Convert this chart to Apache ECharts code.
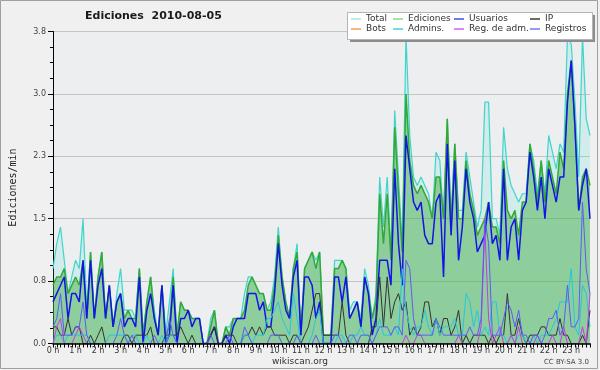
<!DOCTYPE html>
<html><head><meta charset="utf-8">
<script src="https://cdn.jsdelivr.net/npm/echarts@6/dist/echarts.min.js"></script>
<style>html,body{margin:0;padding:0;background:#fff;}#c{width:600px;height:370px;}</style>
</head><body><div id="c"></div>
<script>
const hourLabels = ['0 h','1 h','2 h','3 h','4 h','5 h','6 h','7 h','8 h','9 h','10 h','11 h','12 h','13 h','14 h','15 h','16 h','17 h','18 h','19 h','20 h','21 h','22 h','23 h'];
const yTicks = [0, 0.75, 1.5, 2.25, 3, 3.75];

const total = [
0.9,1.2,1.4,1.0,0.6,0.8, 1.0,0.9,1.5,0.4,1.1,0.3, 0.8,1.1,0.3,0.7,0.2,0.6, 0.9,0.4,0.4,0.4,0.3,0.9,
0.1,0.5,0.8,0.4,0.1,0.7, 0.1,0.5,0.9,0.1,0.5,0.4, 0.4,0.3,0.3,0.3,0,0, 0.3,0.4,0,0,0.2,0.2,
0.3,0.3,0.3,0.6,0.8,0.8, 0.7,0.6,0.6,0.4,0.5,0.8, 1.4,0.8,0.5,0.3,0.9,1.2, 0.1,0.9,1.0,1.1,1.0,1.1,
0.1,0.1,0.1,1.0,1.0,1.0, 0.9,0.4,0.5,0.5,0.3,0.9, 0.7,0.3,0.6,2.0,1.4,2.0, 1.1,2.8,2.0,1.2,3.7,2.5,
2.0,1.9,2.0,1.9,1.8,1.5, 2.3,2.2,1.5,2.7,1.5,2.4, 1.6,1.6,2.3,2.0,1.7,1.4, 1.6,2.9,2.9,1.5,1.5,1.3,
2.6,2.1,1.9,1.8,1.7,1.8, 1.8,2.4,2.2,1.8,2.2,1.8, 2.5,2.3,2.1,2.4,2.3,3.7, 3.6,2.9,2.0,3.7,2.7,2.5];
const ediciones = [
0.7,0.8,0.8,0.9,0.6,0.7, 0.8,0.7,1.0,0.3,1.1,0.3, 0.8,1.1,0.3,0.7,0.2,0.5, 0.6,0.3,0.4,0.3,0.3,0.9,
0.1,0.5,0.8,0.3,0.1,0.7, 0.1,0.2,0.8,0.1,0.5,0.4, 0.4,0.3,0.3,0.3,0,0, 0.2,0.4,0,0,0.2,0.1,
0.3,0.3,0.3,0.4,0.7,0.8, 0.7,0.6,0.6,0.4,0.4,0.7, 1.3,0.8,0.5,0.3,0.9,1.1, 0.1,0.9,1.0,1.1,0.9,1.1,
0.1,0.1,0.1,0.9,0.9,1.0, 0.9,0.3,0.4,0.5,0.2,0.8, 0.6,0.3,0.5,1.8,1.2,1.8, 1.0,2.6,1.8,1.1,3.0,2.2,
1.9,1.8,1.9,1.8,1.7,1.5, 2.0,2.0,1.5,2.7,1.4,2.4, 1.5,1.5,2.2,1.8,1.6,1.3, 1.4,1.5,1.7,1.4,1.4,1.2,
2.2,1.6,1.5,1.6,1.3,1.7, 1.7,2.4,2.1,1.7,2.2,1.7, 2.2,2.0,1.8,2.3,2.1,3.0, 3.4,2.6,1.6,2.0,2.1,1.9];
const usuarios = [
0.5,0.6,0.7,0.8,0.3,0.6, 0.6,0.5,1.0,0.3,1.0,0.3, 0.7,0.9,0.3,0.7,0.2,0.5, 0.6,0.2,0.3,0.3,0.2,0.8,
0.0,0.4,0.6,0.3,0.1,0.7, 0.0,0.1,0.7,0.0,0.3,0.3, 0.4,0.2,0.3,0.3,0,0, 0.1,0.2,0,0,0.1,0.0,
0.2,0.3,0.3,0.3,0.6,0.6, 0.6,0.4,0.5,0.2,0.2,0.6, 1.2,0.7,0.4,0.3,0.8,1.0, 0.1,0.8,0.8,0.7,0.3,0.5,
0,0,0,0.8,0.8,0.5, 0.8,0.3,0.4,0.5,0.2,0.8, 0.6,0.1,0.3,1.0,1.0,1.0, 0.7,2.1,1.2,0.7,2.5,2.1,
1.7,1.6,1.7,1.3,1.2,1.2, 1.7,1.8,0.8,2.4,1.3,2.2, 1.0,1.4,2.1,1.7,1.5,1.1, 1.2,1.3,1.7,1.2,1.3,1.0,
2.1,1.0,1.4,1.5,1.0,1.6, 1.7,2.3,2.0,1.6,2.0,1.5, 2.1,1.9,1.7,2.0,2.0,2.9, 3.4,2.6,1.6,1.9,2.1,1.5];
const ip = [
0.2,0.2,0.1,0.1,0.3,0.1, 0.2,0.2,0,0,0.1,0, 0.1,0.2,0,0,0,0, 0,0.1,0.1,0,0.1,0.1,
0.1,0.1,0.2,0,0,0, 0.1,0.1,0.1,0.1,0.2,0.1, 0,0.1,0,0,0,0, 0.1,0.2,0,0,0.1,0.1,
0.1,0,0,0.1,0.1,0.2, 0.1,0.2,0.1,0.2,0.2,0.1, 0.1,0.1,0.1,0,0.1,0.1, 0,0.1,0.2,0.4,0.6,0.6,
0.1,0.1,0.1,0.1,0.1,0.5, 0.1,0,0,0,0,0, 0,0.2,0.2,0.8,0.2,0.8, 0.3,0.5,0.6,0.4,0.5,0.1,
0.2,0.1,0.2,0.5,0.5,0.2, 0.3,0.1,0.3,0.3,0.1,0.2, 0.4,0,0.1,0,0.1,0.1, 0.1,0.1,0,0.1,0,0.1,
0.1,0.6,0.1,0.1,0.3,0.1, 0,0.1,0.1,0.1,0.2,0.2, 0.1,0.1,0.1,0.3,0.1,0.1, 0,0,0,0.1,0,0.4];
const bots = [
0,0,0,0,0,0, 0,0,0,0,0,0, 0,0,0,0,0,0, 0,0,0,0,0,0,
0,0,0,0,0,0, 0,0,0,0,0,0, 0,0,0,0,0,0, 0,0,0,0,0,0,
0,0,0,0,0,0, 0,0,0,0,0,0, 0,0,0,0,0,0, 0,0,0,0,0,0,
0,0,0,0,0,0, 0,0,0,0,0,0, 0,0,0,0,0,0, 0,0,0,0,0,0,
0,0,0,0,0,0, 0,0,0,0,0,0, 0,0,0,0,0,0, 0,0,0,0,0,0,
0,0,0,0,0,0, 0,0,0,0,0,0, 0,0,0,0,0,0, 0,0,0,0,0,0];
const admins = [
0,0.1,0.1,0,0.1,0.1, 0.1,0.1,0.1,0.1,0,0, 0,0,0,0.1,0.1,0.1, 0.1,0.1,0,0.1,0.1,0,
0,0.1,0,0,0,0.1, 0,0.1,0.1,0,0,0, 0,0,0,0,0,0, 0,0,0,0,0,0,
0,0,0,0.1,0.1,0, 0.1,0.1,0.1,0.3,0.3,0.4, 0.5,0.3,0.2,0.1,0.6,0.3, 0,0,0,0.1,0.3,0.4,
0,0,0,0,0.1,0.1, 0,0,0.1,0.1,0.2,0.1, 0.1,0,0.1,0.3,0.1,0.1, 0.1,0.2,0.1,0.9,0.4,0.2,
0.1,0.2,0.2,0.4,0.2,0.1, 0.3,0.1,0.2,0.2,0.2,0.3, 0.1,0.1,0.6,0.5,0.2,0.4, 0.1,0.2,0.1,0.5,0.5,0.1,
0.1,0,0.1,0,0.1,0.1, 0,0,0.1,0,0.1,0.1, 0.1,0.2,0.3,0.5,0.5,0.5, 0.9,0.2,0.1,0.7,0.6,0.2];
const regAdm = [
0,0.2,0.3,0,0,0, 0.1,0.2,0.1,0,0,0, 0,0,0,0,0,0, 0,0,0,0,0,0,
0,0,0,0,0,0, 0,0,0,0,0,0, 0,0,0,0,0,0, 0,0,0,0,0,0,
0,0,0,0,0,0, 0,0,0,0,0,0, 0,0,0,0,0,0, 0,0,0,0,0,0,
0,0,0,0,0,0, 0,0,0,0,0,0, 0,0,0,0,0,0, 0,0,0,0,0.1,0,
0,0.1,0.1,0,0,0, 0,0,0,0,0,0, 0.1,0,0,0,0,0, 0.2,1.4,0.3,0,0.1,0.2,
0,0,0.1,0,0.2,0, 0,0,0,0.1,0,0, 0,0.1,0,0,0.2,0, 0,0,0,0.2,0,0.6];
const registros = [
0.2,0.3,0.6,0.1,0.1,0.1, 0.2,0.2,0.5,0.1,0,0, 0,0,0,0,0,0.1, 0.3,0.1,0,0.1,0,0,
0,0,0,0.1,0,0, 0,0.3,0.1,0,0,0, 0,0,0,0,0,0, 0.1,0,0,0,0,0.1,
0,0,0,0.2,0.1,0, 0,0,0,0,0.1,0.1, 0.1,0,0,0,0,0.1, 0,0,0,0,0.1,0,
0,0,0,0.1,0.1,0, 0,0.1,0.1,0,0.1,0.1, 0.1,0,0.1,0.2,0.2,0.2, 0.1,0.2,0.2,0.1,1.0,0.9,
0.3,0.1,0.1,0.1,0.1,0.1, 0.3,0.2,0.1,0.1,0.1,0.1, 0.1,0.1,0.1,0.2,0.1,0.1, 0.3,1.5,1.2,0.1,0.1,0.1,
0.3,0.5,0.4,0.2,0.4,0.1, 0.1,0,0.1,0.1,0,0.1, 0.3,0.3,0.4,0.1,0.2,0.7, 0.2,0.2,0.3,1.7,0.9,0.6];

const slots = [];
for (let h = 0; h < 24; h++) for (let m = 0; m < 60; m += 10) slots.push(h + ':' + String(m).padStart(2, '0'));

const FONT = 'DejaVu Sans';
function ln(name, data, color, width, area) {
  const s = {name, type:'line', data, showSymbol:false, symbol:'none', silent:true,
    color, lineStyle:{color, width}, emphasis:{disabled:true}};
  if (area) s.areaStyle = {color: area, opacity: 1};
  return s;
}
const legendBase = {orient:'vertical', top:14, itemWidth:10, itemHeight:1.5, itemGap:0, icon:'rect',
  padding:0, selectedMode:false, z:6,
  textStyle:{fontFamily:FONT, fontSize:9, color:'#333', lineHeight:10}};
const legCol = {Total:'#a6e4e0', Ediciones:'#8cd48c', Usuarios:'#4a4ae6', IP:'#3a3a3a', Bots:'#f4a050',
  'Admins.':'#48cce0', 'Reg. de adm.':'#d060e8', Registros:'#7474f2'};
const legItem = n => ({name:n, itemStyle:{color:legCol[n]}});

const chart = echarts.init(document.getElementById('c'));
chart.setOption({
  animation:false,
  backgroundColor:'#f0f0f0',
  title:{text:'Ediciones  2010-08-05', left:85, top:11, padding:0,
    textStyle:{fontFamily:FONT, fontSize:11, fontWeight:'bold', color:'#1a1a1a'}},
  legend:[
    Object.assign({}, legendBase, {left:351, data:[legItem('Total'), legItem('Bots')]}),
    Object.assign({}, legendBase, {left:393, data:[legItem('Ediciones'), legItem('Admins.')]}),
    Object.assign({}, legendBase, {left:454, data:[legItem('Usuarios'), legItem('Reg. de adm.')]}),
    Object.assign({}, legendBase, {left:530, data:[legItem('IP'), legItem('Registros')]})
  ],
  grid:{left:46, right:10, top:31.5, bottom:26.5, show:true, backgroundColor:'#eceef0', borderWidth:0},
  xAxis:{type:'category', data:slots, boundaryGap:false, z:10,
    axisLine:{lineStyle:{color:'#000', width:1.5}},
    axisTick:{show:true, interval:0, length:4, lineStyle:{color:'#000'}},
    axisLabel:{interval:(i)=>i % 6 === 0, formatter:(v, i)=>hourLabels[Math.round(i / 6)],
      fontFamily:FONT, fontSize:8, color:'#333', margin:3},
    splitLine:{show:false}},
  yAxis:{type:'value', min:yTicks[0], max:yTicks[yTicks.length-1], interval:0.75,
    name:'Ediciones/min', nameLocation:'middle', nameGap:35, nameRotate:90,
    nameTextStyle:{fontFamily:'DejaVu Sans Mono', fontSize:10, color:'#222'},
    axisLine:{show:true, lineStyle:{color:'#000', width:1}},
    axisTick:{show:true, length:5, lineStyle:{color:'#000'}},
    minorTick:{show:true, splitNumber:4, length:3, lineStyle:{color:'#000'}},
    axisLabel:{formatter:v=>v.toFixed(1), fontFamily:FONT, fontSize:8, color:'#444', margin:7},
    splitLine:{show:true, lineStyle:{color:'#c4c4c4', width:1}}},
  series:[
    ln('Total', total, '#3fd5cb', 1.2, 'rgba(64,224,208,0.15)'),
    ln('Ediciones', ediciones, '#34a834', 1.5, 'rgba(60,170,60,0.45)'),
    ln('Bots', bots, '#ff9933', 1),
    ln('Usuarios', usuarios, '#1414e6', 1.5),
    ln('IP', ip, '#333333', 1),
    ln('Admins.', admins, '#22c8e0', 1),
    ln('Reg. de adm.', regAdm, '#c73ae6', 1),
    ln('Registros', registros, '#5c5cf5', 1)
  ],
  graphic:[
    {type:'rect', silent:true, z:4, shape:{x:350, y:15, width:245, height:27}, style:{fill:'#8c8c8c'}},
    {type:'rect', silent:true, z:5, shape:{x:347.5, y:12.5, width:245, height:27}, style:{fill:'#ffffff', stroke:'#b4b4b4', lineWidth:1}},
    {type:'text', silent:true, z:5, style:{x:300, y:362, text:'wikiscan.org', align:'center', verticalAlign:'middle',
      font:'9px "DejaVu Sans"', fill:'#333'}},
    {type:'text', silent:true, z:5, style:{x:589, y:362, text:'CC BY-SA 3.0', align:'right', verticalAlign:'middle',
      font:'7px "DejaVu Sans"', fill:'#444'}},
    {type:'rect', silent:true, z:20, shape:{x:0.5, y:0.5, width:597, height:368}, style:{fill:null, stroke:'#a0a0a0', lineWidth:1}}
  ]
});
</script></body></html>
